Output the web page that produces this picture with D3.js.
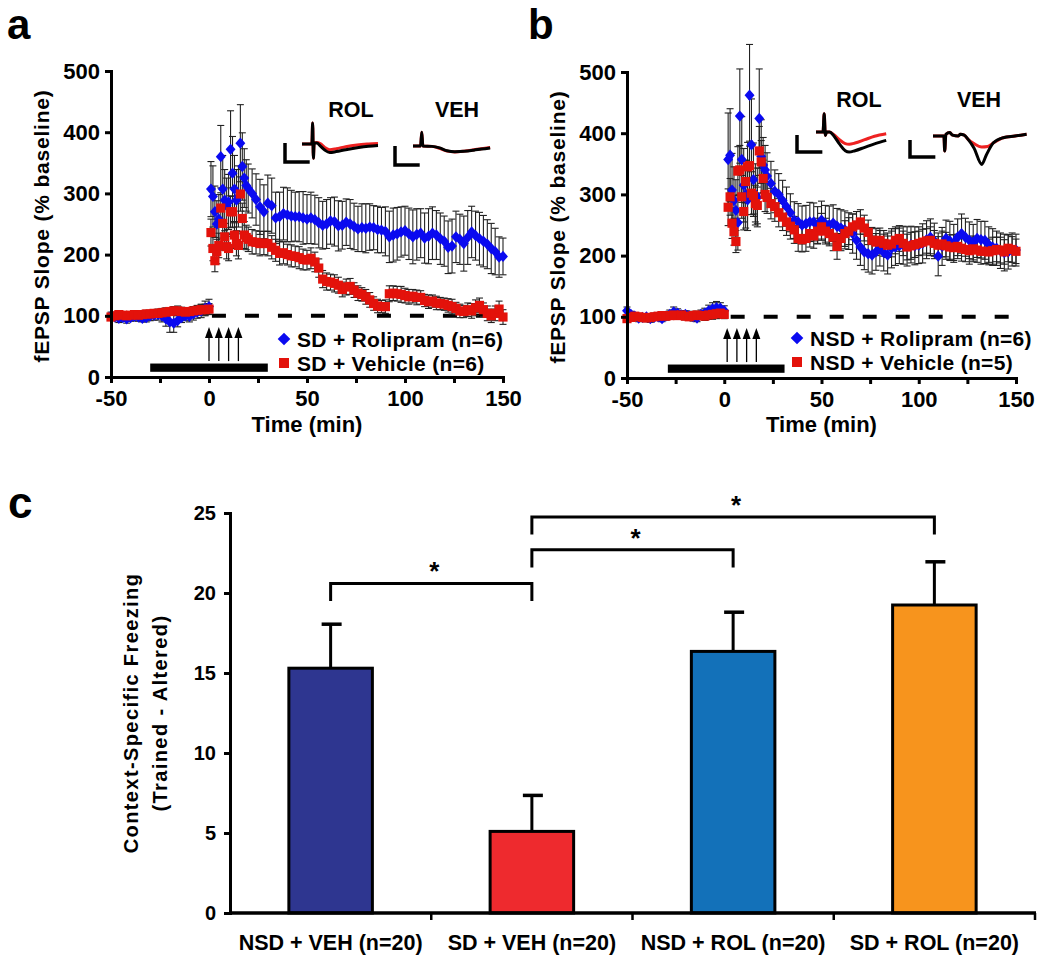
<!DOCTYPE html>
<html><head><meta charset="utf-8">
<script src="https://cdn.jsdelivr.net/npm/d3@7"></script>
<style>
body{margin:0;background:#fff}
svg{display:block;font-family:"Liberation Sans",Arial,Helvetica,sans-serif;font-weight:bold}
</style>
</head><body>
<svg id="chart" width="1050" height="963"></svg>
<script>
// ---------------- DATA ----------------
// Panel a / b : time (min)
const timesA = [-50,-48,-46,-44,-42,-40,-38,-36,-34,-32,-30,-28,-26,-24,-22,-20,-18,-16,-14,-12,-10,-8,-6,-4,-2,0,
 1,2,3,4,5,6,7,8,9,10,11,12,13,14,15,16,17,18,19,20,
 22,24,26,28,30,32,34,36,38,40,42,44,46,48,50,52,54,56,58,60,62,64,66,68,70,72,74,76,78,80,82,84,86,88,90,
 92,94,96,98,100,102,104,106,108,110,112,114,116,118,120,122,124,126,128,130,132,134,136,138,140,142,144,146,148,150];
const timesB = [-50,-48,-46,-44,-42,-40,-38,-36,-34,-32,-30,-28,-26,-24,-22,-20,-18,-16,-14,-12,-10,-8,-6,-4,-2,0,
 2,3,4,5,6,7,8,9,10,11,12,13,14,15,16,17,18,19,20,21,
 22,24,26,28,30,32,34,36,38,40,42,44,46,48,50,52,54,56,58,60,62,64,66,68,70,72,74,76,78,80,82,84,86,88,90,
 92,94,96,98,100,102,104,106,108,110,112,114,116,118,120,122,124,126,128,130,132,134,136,138,140,142,144,146,148,150];

// SD + Rolipram (n=6)
const aRol = [100,98,96,97,95,97,99,98,96,97,100,101,102,100,95,90,88,92,97,100,99,103,106,108,112,115,
 307,295,270,250,258,360,307,289,280,286,372,333,307,289,295,382,344,325,313,308,
 300,290,278,270,284, 280,260,262,267,265, 263,262,262,260,258, 260,257,252,248,250, 255,254,247,248,253,
 250,246,242,244,243, 245,244,241,240,238, 229,232,234,237,239, 234,229,233,235,227, 230,235,232,226,222,
 212,214,229,225,218, 228,237,231,226,222, 217,210,205,196,197];
const aRolErr = [6,6,7,6,7,6,6,7,6,7,8,8,9,10,12,17,15,10,8,8,9,10,10,11,12,12,
 45,50,42,38,40,51,55,50,45,45,63,60,55,50,50,63,55,48,42,40,
 40,42,45,44,46, 45,42,40,43,44, 42,40,41,43,40, 42,40,41,39,40, 38,40,41,39,38,
 40,38,37,39,40, 38,36,38,37,40, 42,44,43,41,40, 42,44,42,40,41, 45,43,40,42,41,
 43,44,42,41,45, 44,42,40,43,42, 40,41,38,33,30];
// SD + Vehicle (n=6)
const aVeh = [98,100,102,101,100,101,102,101,102,103,103,104,104,105,106,107,108,108,107,106,107,108,109,110,110,111,
 236,210,190,205,215,276,251,229,213,210,270,270,232,218,215,299,259,232,228,225,
 221,220,218,219,218, 212,207,202,203,200, 198,197,195,192,191, 194,188,178,160,156, 155,153,150,143,147,
 148,142,137,135,131, 126,120,116,115,115, 136,137,136,135,133, 131,132,130,130,125, 123,124,121,120,119,
 117,115,112,108,107, 110,108,113,117,110, 104,100,104,111,98];
const aVehErr = [5,5,6,5,6,5,6,5,6,6,5,6,6,7,7,6,7,8,7,7,6,7,8,8,9,9,
 22,20,18,20,20,25,24,22,20,20,26,25,22,20,22,28,25,22,20,20,
 20,19,20,19,20, 19,18,19,18,17, 18,17,18,17,16, 17,16,15,14,14, 13,14,13,12,13,
 13,12,12,11,12, 12,11,11,10,11, 13,12,12,13,12, 12,11,12,11,10, 11,10,11,10,10,
 11,12,10,11,10, 11,12,13,12,11, 12,11,12,13,12];
// NSD + Rolipram (n=6)
const bRol = [110,104,101,98,99,100,97,99,100,97,101,104,108,106,103,104,102,100,98,104,106,110,113,115,114,110,
 357,364,307,290,274,254,428,357,315,300,291,462,381,324,300,295,424,362,348,340,
 330,318,305,300,290, 280,270,258,255,250, 252,255,255,250,258, 252,250,253,248,245, 242,240,236,225,214,
 206,203,201,206,212, 205,201,212,214,216, 217,215,218,216,217, 220,226,230,224,199, 215,228,224,220,230,
 236,230,225,222,228, 226,225,218,214,212, 208,205,206,210,209];
const bRolErr = [6,5,5,6,5,5,6,5,6,5,6,7,8,7,7,6,6,7,6,7,8,9,10,10,9,8,
 76,76,60,55,50,45,77,70,60,55,50,83,75,60,50,48,81,60,45,40,
 38,36,35,34,33, 32,31,30,30,31, 30,32,31,30,31, 30,31,30,29,30, 31,30,32,31,30,
 29,30,31,30,29, 30,31,32,30,29, 31,32,30,31,30, 32,31,30,29,32, 31,30,32,31,30,
 32,31,30,29,31, 30,31,29,30,28, 29,30,28,27,26];
// NSD + Vehicle (n=5)
const bVeh = [97,99,101,100,99,98,99,100,101,102,101,102,103,102,103,101,100,102,103,102,101,103,104,105,106,104,
 279,296,253,239,223,338,340,296,272,321,345,347,302,298,285,282,371,353,326,300,
 295,285,280,270,263, 255,248,242,228,226, 228,236,232,240,247, 240,236,230,215,228, 236,240,247,250,255,
 245,238,225,222,225, 220,217,219,225,228, 220,214,216,218,220, 222,224,225,220,217, 219,216,214,213,215,
 212,210,208,211,209, 207,207,206,208,210, 209,206,212,210,207];
const bVehErr = [5,5,6,5,5,6,5,6,5,6,6,5,6,6,7,6,6,7,6,6,7,7,8,8,8,7,
 30,30,25,22,18,40,40,35,30,35,40,40,35,30,30,30,40,35,30,28,
 26,25,24,23,22, 22,21,22,21,20, 21,22,20,21,22, 21,20,22,21,20, 21,22,21,22,20,
 21,20,21,22,20, 21,20,21,22,21, 20,21,22,21,20, 21,20,22,21,20, 21,22,20,21,20,
 21,20,22,21,20, 21,20,21,22,20, 21,20,22,21,20];

const ltpYTicks = [0,100,200,300,400,500];
const ltpXTicks = [-50,-25,0,25,50,75,100,125,150];
const ltpXLabels = ["-50","","0","","50","","100","","150"];
const drugWindowA = [-30,30], drugWindowB = [-29,31];
const tetanusA = [0,5,10,15], tetanusB = [1.5,6.5,11.5,16.5];
const legendA = ["SD + Rolipram (n=6)","SD + Vehicle (n=6)"];
const legendB = ["NSD + Rolipram (n=6)","NSD + Vehicle (n=5)"];

// example fEPSP traces: [ms, mV]
const traceA_ROL_black = [[0,0],[2.6,0],[2.8,1.1],[3.0,-0.75],[3.2,0.05],[3.9,0.05],[4.8,-0.1],[6,-0.32],[7.3,-0.45],[9,-0.4],[11.5,-0.3],[14.5,-0.2],[17.5,-0.12],[20,-0.08]];
const traceA_ROL_red   = [[0,0],[2.6,0],[2.8,1.1],[3.0,-0.75],[3.2,0.05],[3.9,0.08],[4.8,0.02],[6,-0.18],[7.3,-0.3],[9,-0.25],[11.5,-0.14],[14.5,-0.05],[17.5,0],[20,0.03]];
const traceA_VEH_black = [[0,0],[2.0,0],[2.3,0.72],[2.6,0],[5,-0.02],[7,-0.1],[9,-0.25],[11,-0.3],[13.5,-0.28],[16,-0.22],[18,-0.16],[20.3,-0.1]];
const traceA_VEH_red   = [[0,0],[2.0,0],[2.3,0.72],[2.6,0],[5,-0.02],[7,-0.12],[9,-0.27],[11,-0.31],[13.5,-0.27],[16,-0.2],[18,-0.14],[20.3,-0.08]];
const traceB_ROL_black = [[0,0],[1.8,0],[2.1,1.08],[2.4,-0.2],[2.7,0],[3.5,0],[4.5,-0.2],[6,-0.7],[7.5,-1.1],[8.5,-1.18],[10,-1.1],[12.5,-0.9],[15,-0.7],[18,-0.49]];
const traceB_ROL_red   = [[0,0],[1.8,0],[2.1,1.08],[2.4,-0.2],[2.7,0],[3.5,0],[4.5,-0.15],[6,-0.45],[7.5,-0.68],[8.5,-0.72],[10,-0.65],[12.5,-0.45],[15,-0.25],[18,-0.1]];
const traceB_VEH_black = [[0,0],[2.8,0],[3.0,-0.88],[3.3,0.1],[4.3,0.2],[5,0.05],[6.5,0],[7,0.1],[8,0.05],[9,-0.2],[10.5,-0.7],[12.5,-1.67],[13.7,-1.1],[15.5,-0.4],[18,-0.1],[21,0],[24,0.1]];
const traceB_VEH_red   = [[0,0],[2.8,0],[3.0,-0.88],[3.3,0.1],[4.3,0.2],[5,0.05],[6.5,0],[7,0.1],[8,0.05],[9,-0.2],[10.5,-0.45],[12.5,-0.65],[14,-0.62],[15.5,-0.4],[18,-0.1],[21,0],[24,0.1]];
const scaleBarMs = 6.5, scaleBarMv = 1;

// Panel c
const groupsC = ["NSD + VEH (n=20)","SD + VEH (n=20)","NSD + ROL (n=20)","SD + ROL (n=20)"];
const freezeMean = [15.3, 5.1, 16.35, 19.25];
const freezeSem  = [2.75, 2.25, 2.45, 2.7];
const yTicksC = [0,5,10,15,20,25];
const comparisons = [[0,1],[1,2],[1,3]];

// ---------------- DRAW ----------------
const svg = d3.select("#chart");
const BLUE = "#0a0af0", RED = "#e3120b";

function styleAxis(g, fs){
  g.select(".domain").attr("stroke","#000").attr("stroke-width",3).attr("stroke-linecap","square");
  g.selectAll(".tick line").attr("stroke","#000").attr("stroke-width",3);
  g.selectAll(".tick text").attr("fill","#000").attr("font-size",fs).attr("font-weight","bold")
    .attr("font-family",'"Liberation Sans",Arial,sans-serif');
}

function drawLTP(p){
  const x = d3.scaleLinear().domain([-50,150]).range(p.xr);
  const y = d3.scaleLinear().domain([0,500]).range(p.yr);
  const g = svg.append("g");

  // drug application bar
  g.append("rect").attr("x",x(p.win[0])).attr("width",x(p.win[1])-x(p.win[0]))
    .attr("y",y(22)).attr("height",y(8.5)-y(22)).attr("fill","#000");

  // baseline dashed line
  g.append("line").attr("x1",x(p.dashStart)).attr("x2",x(150)).attr("y1",y(100)).attr("y2",y(100))
    .attr("stroke","#000").attr("stroke-width",4).attr("stroke-dasharray","14,19");

  // tetanus arrows
  p.arrows.forEach(t=>{
    const xx = x(t);
    g.append("line").attr("x1",xx).attr("x2",xx).attr("y1",y(26)).attr("y2",y(72))
      .attr("stroke","#000").attr("stroke-width",1.3);
    g.append("path").attr("d",`M${xx},${y(80)-1}L${xx-4},${y(80)+10}L${xx+4},${y(80)+10}Z`).attr("fill","#000");
  });

  // error bars
  p.series.forEach(s=>{
    s.v.forEach((v,i)=>{
      const xx = x(p.t[i]), e = s.e[i];
      g.append("line").attr("x1",xx).attr("x2",xx).attr("y1",y(v-e)).attr("y2",y(v+e))
        .attr("stroke","#222").attr("stroke-width",1.1);
      [v-e,v+e].forEach(c=>g.append("line").attr("x1",xx-3.5).attr("x2",xx+3.5).attr("y1",y(c)).attr("y2",y(c))
        .attr("stroke","#222").attr("stroke-width",1.1));
    });
  });
  // markers
  p.series.forEach(s=>{
    s.v.forEach((v,i)=>{
      if(s.shape==="diamond"){
        g.append("path").attr("d",d3.symbol(d3.symbolSquare,58)())
          .attr("transform",`translate(${x(p.t[i])},${y(v)}) scale(0.92,1.05) rotate(45)`).attr("fill",s.color);
      } else {
        g.append("path").attr("d",d3.symbol(d3.symbolSquare,84)())
          .attr("transform",`translate(${x(p.t[i])},${y(v)})`).attr("fill",s.color);
      }
    });
  });

  // axes
  const ya = g.append("g").attr("transform",`translate(${p.xr[0]},0)`)
    .call(d3.axisLeft(y).tickValues(ltpYTicks).tickSize(6).tickPadding(5).tickSizeOuter(0));
  styleAxis(ya,22);
  const xa = g.append("g").attr("transform",`translate(0,${p.yr[0]})`)
    .call(d3.axisBottom(x).tickValues(ltpXTicks).tickFormat((d,i)=>ltpXLabels[i]).tickSize(6).tickPadding(7).tickSizeOuter(0));
  styleAxis(xa,22);

  g.append("text").attr("x",(p.xr[0]+p.xr[1])/2).attr("y",432).attr("text-anchor","middle")
    .attr("font-size",22).text("Time (min)");
  g.append("text").attr("transform",`translate(${p.xr[0]-62},${(p.yr[0]+p.yr[1])/2+2}) rotate(-90)`)
    .attr("text-anchor","middle").attr("font-size",21).attr("letter-spacing",0.8).text("fEPSP Slope (% baseline)");

  // legend
  p.legend.forEach((lab,i)=>{
    const ly = p.legPos[1] + i*24;
    if(i===0){
      g.append("path").attr("d",d3.symbol(d3.symbolSquare,80)())
        .attr("transform",`translate(${p.legPos[0]},${ly}) rotate(45)`).attr("fill",BLUE);
    } else {
      g.append("path").attr("d",d3.symbol(d3.symbolSquare,100)())
        .attr("transform",`translate(${p.legPos[0]},${ly})`).attr("fill",RED);
    }
    g.append("text").attr("x",p.legPos[0]+13).attr("y",ly+7.5).attr("font-size",21).attr("letter-spacing",0.3).text(lab);
  });

  // insets
  p.insets.forEach(ins=>{
    g.append("text").attr("x",ins.label[0]).attr("y",ins.label[1]).attr("text-anchor","middle")
      .attr("font-size",21.5).text(ins.name);
    const tx = d3.scaleLinear().domain([0,1]).range([ins.origin[0], ins.origin[0]+ins.msPx]);
    const ty = d3.scaleLinear().domain([0,1]).range([ins.origin[1], ins.origin[1]-ins.mvPx]);
    const sbx = d3.scaleLinear().domain([0,1]).range([ins.bar[0], ins.bar[0]+ins.msPx]);
    const sby = d3.scaleLinear().domain([0,1]).range([ins.bar[1], ins.bar[1]-ins.mvPx]);
    g.append("path").attr("d",`M${sbx(0)},${sby(scaleBarMv)}L${sbx(0)},${sby(0)}L${sbx(scaleBarMs)},${sby(0)}`)
      .attr("fill","none").attr("stroke","#000").attr("stroke-width",3.5);
    const line = d3.line().x(d=>tx(d[0])).y(d=>ty(d[1])).curve(d3.curveMonotoneX);
    g.append("path").attr("d",line(ins.red)).attr("fill","none").attr("stroke","#ee2222").attr("stroke-width",3);
    g.append("path").attr("d",line(ins.black)).attr("fill","none").attr("stroke","#000").attr("stroke-width",3);
  });

  // panel letter
  g.append("text").attr("x",p.letter[0]).attr("y",p.letter[1]).attr("font-size",42).text(p.name);
}

drawLTP({
  name:"a", letter:[7,39], xr:[111,503], yr:[377,71], t:timesA, win:drugWindowA, arrows:tetanusA, dashStart:1.5,
  series:[{v:aRol,e:aRolErr,color:BLUE,shape:"diamond"},{v:aVeh,e:aVehErr,color:RED,shape:"square"}],
  legend:legendA, legPos:[284,339],
  insets:[
    {name:"ROL",label:[351,117],origin:[302,144],bar:[285,162],msPx:3.8,mvPx:19,black:traceA_ROL_black,red:traceA_ROL_red},
    {name:"VEH",label:[457,117],origin:[413,146],bar:[395,165],msPx:3.8,mvPx:19,black:traceA_VEH_black,red:traceA_VEH_red}
  ]
});
drawLTP({
  name:"b", letter:[528,39], xr:[627,1016], yr:[378,72], t:timesB, win:drugWindowB, arrows:tetanusB, dashStart:3.3,
  series:[{v:bRol,e:bRolErr,color:BLUE,shape:"diamond"},{v:bVeh,e:bVehErr,color:RED,shape:"square"}],
  legend:legendB, legPos:[797,338],
  insets:[
    {name:"ROL",label:[859,107],origin:[816,132],bar:[797,152],msPx:3.9,mvPx:17,black:traceB_ROL_black,red:traceB_ROL_red},
    {name:"VEH",label:[979,107],origin:[933,136],bar:[910,157],msPx:3.9,mvPx:17,black:traceB_VEH_black,red:traceB_VEH_red}
  ]
});

// ---------- Panel c ----------
(function(){
  const g = svg.append("g");
  const xb = d3.scaleBand().domain(groupsC).range([230,1035]).padding(0);
  const yc = d3.scaleLinear().domain([0,25]).range([913,513]);
  const colors = ["#2e3690","#ee2a2e","#1371b9","#f7941d"];
  const bw = xb.bandwidth()*0.415;
  const cx = d=>xb(d)+xb.bandwidth()/2;

  // error bars (upper only)
  groupsC.forEach((c,i)=>{
    g.append("line").attr("x1",cx(c)).attr("x2",cx(c)).attr("y1",yc(freezeMean[i])).attr("y2",yc(freezeMean[i]+freezeSem[i]))
      .attr("stroke","#000").attr("stroke-width",3);
    g.append("line").attr("x1",cx(c)-9).attr("x2",cx(c)+11).attr("y1",yc(freezeMean[i]+freezeSem[i])).attr("y2",yc(freezeMean[i]+freezeSem[i]))
      .attr("stroke","#000").attr("stroke-width",3.5);
  });
  // bars
  g.selectAll("rect.bar").data(groupsC).enter().append("rect")
    .attr("x",d=>cx(d)-bw/2).attr("width",bw)
    .attr("y",(d,i)=>yc(freezeMean[i])).attr("height",(d,i)=>yc(0)-yc(freezeMean[i]))
    .attr("fill",(d,i)=>colors[i]).attr("stroke","#000").attr("stroke-width",3);

  // axes
  const ya = g.append("g").attr("transform","translate(230,0)")
    .call(d3.axisLeft(yc).tickValues(yTicksC).tickSize(6).tickPadding(8).tickSizeOuter(0));
  styleAxis(ya,20);
  g.append("line").attr("x1",230).attr("x2",1036).attr("y1",913).attr("y2",913).attr("stroke","#000").attr("stroke-width",3.5);
  groupsC.forEach(c=>{
    const xe = xb(c)+xb.bandwidth();
    g.append("line").attr("x1",xe).attr("x2",xe).attr("y1",913).attr("y2",920).attr("stroke","#000").attr("stroke-width",2.5);
    g.append("text").attr("x",cx(c)).attr("y",950).attr("text-anchor","middle").attr("font-size",21.5).text(c);
  });

  // y title
  g.append("text").attr("transform","translate(138,713) rotate(-90)").attr("text-anchor","middle")
    .attr("font-size",20).attr("letter-spacing",1.4).text("Context-Specific Freezing");
  g.append("text").attr("transform","translate(167,713) rotate(-90)").attr("text-anchor","middle")
    .attr("font-size",20).attr("letter-spacing",1.4).text("(Trained - Altered)");

  // significance brackets
  const levels = [20.6, 22.7, 24.75];
  comparisons.forEach((cmp,k)=>{
    const x1 = cx(groupsC[cmp[0]]), x2 = cx(groupsC[cmp[1]]), ly = yc(levels[k]), ld = yc(levels[k]-1.1);
    g.append("path").attr("d",`M${x1},${ld}L${x1},${ly}L${x2},${ly}L${x2},${ld}`)
      .attr("fill","none").attr("stroke","#000").attr("stroke-width",3);
    g.append("text").attr("x",(x1+x2)/2+3).attr("y",ly-3).attr("text-anchor","middle").attr("font-size",26).text("*");
  });

  g.append("text").attr("x",8).attr("y",518).attr("font-size",44).text("c");
})();
</script>
</body></html>
